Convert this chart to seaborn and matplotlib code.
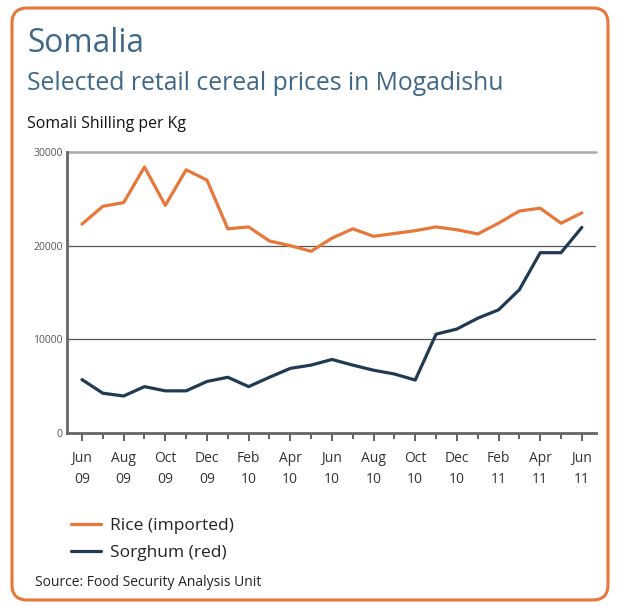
import matplotlib
matplotlib.use("Agg")
import matplotlib.pyplot as plt
from matplotlib.patches import FancyBboxPatch
from matplotlib.lines import Line2D
import pandas as pd
import seaborn as sns

# Monthly retail prices in Mogadishu, Jun 2009 - Jun 2011 (Somali Shilling per Kg)
months = ["Jun 09", "Jul 09", "Aug 09", "Sep 09", "Oct 09", "Nov 09", "Dec 09",
          "Jan 10", "Feb 10", "Mar 10", "Apr 10", "May 10", "Jun 10", "Jul 10",
          "Aug 10", "Sep 10", "Oct 10", "Nov 10", "Dec 10", "Jan 11", "Feb 11",
          "Mar 11", "Apr 11", "May 11", "Jun 11"]
rice = [22300, 24200, 24600, 28400, 24300, 28100, 27000, 21800, 22000, 20500,
        20000, 19400, 20800, 21800, 21000, 21300, 21600, 22000, 21700, 21250,
        22400, 23700, 24000, 22400, 23500]
sorghum = [5700, 4250, 3950, 4950, 4500, 4500, 5500, 5950, 4950, 5950,
           6900, 7250, 7850, 7250, 6700, 6300, 5650, 10550, 11100, 12250,
           13150, 15300, 19250, 19250, 21950]
series_names = ["Rice (imported)", "Sorghum (red)"]
tick_labels = ["Jun\n09", "Aug\n09", "Oct\n09", "Dec\n09", "Feb\n10", "Apr\n10",
               "Jun\n10", "Aug\n10", "Oct\n10", "Dec\n10", "Feb\n11", "Apr\n11",
               "Jun\n11"]
y_ticks = [0, 10000, 20000, 30000]

ORANGE = "#e8773a"
NAVY = "#203a53"
TITLE_BLUE = "#3f6888"

df = pd.DataFrame({
    "month": list(range(len(months))) * 2,
    "price": rice + sorghum,
    "series": [series_names[0]] * len(months) + [series_names[1]] * len(months),
})

sns.set_theme(style="white")
plt.rcParams["font.family"] = ["Open Sans", "DejaVu Sans"]

fig = plt.figure(figsize=(6.17, 6.06), dpi=100)
fig.patch.set_facecolor("white")

# rounded orange frame
frame = FancyBboxPatch((12 / 617, 6 / 606), 596 / 617, 592 / 606,
                       boxstyle="round,pad=0,rounding_size=0.025",
                       transform=fig.transFigure, facecolor="none",
                       edgecolor=ORANGE, linewidth=2.2, zorder=-1)
fig.patches.append(frame)

ax = fig.add_axes([67 / 617, 1 - 433 / 606, 529 / 617, 281 / 606])
ax.set_facecolor("none")

sns.lineplot(data=df, x="month", y="price", hue="series",
             palette=[ORANGE, NAVY], linewidth=2.3, ax=ax, legend=False,
             zorder=3)

ax.set_xlim(-0.72, 24.68)
ax.set_ylim(0, 30000)
ax.set_yticks(y_ticks)
ax.set_yticklabels([str(v) for v in y_ticks], fontsize=7.5, color="#555555")
ax.set_xticks(range(0, 25, 2))
ax.set_xticklabels(tick_labels, fontsize=10, color="#333333", linespacing=1.55)
ax.set_xticks(range(1, 25, 2), minor=True)
ax.tick_params(axis="x", which="major", length=6, width=1.3, color="#555555",
               direction="out", pad=7, bottom=True)
ax.tick_params(axis="x", which="minor", length=4, width=1.3, color="#555555",
               direction="out", bottom=True)
ax.tick_params(axis="y", length=0, pad=3)

ax.set_xlabel("")
ax.set_ylabel("")

for y in (10000, 20000):
    ax.axhline(y, color="#555555", linewidth=0.9, zorder=1)
ax.axhline(30000, color="#aaaaaa", linewidth=1.8, zorder=1, clip_on=False)

for side in ("top", "right"):
    ax.spines[side].set_visible(False)
for side in ("left", "bottom"):
    ax.spines[side].set_color("#666666")
    ax.spines[side].set_linewidth(2.0)

# titles
fig.text(27 / 617, 1 - 44 / 606, "Somalia", fontsize=22.8, color=TITLE_BLUE,
         va="center", ha="left")
fig.text(27 / 617, 1 - 83 / 606, "Selected retail cereal prices in Mogadishu",
         fontsize=17.8, color=TITLE_BLUE, va="center", ha="left")
fig.text(27 / 617, 1 - 124 / 606, "Somali Shilling per Kg", fontsize=11.4,
         color="#111111", va="center", ha="left")

# legend
handles = [Line2D([], [], color=ORANGE, linewidth=2.3),
           Line2D([], [], color=NAVY, linewidth=2.3)]
fig.legend(handles, series_names, loc="upper left",
           bbox_to_anchor=(55 / 617, 1 - 502 / 606), frameon=False,
           fontsize=12.5, handlelength=1.75, handletextpad=0.5,
           labelspacing=0.65, labelcolor="#222222")

fig.text(35 / 617, 1 - 583 / 606, "Source: Food Security Analysis Unit",
         fontsize=10, color="#222222", va="center", ha="left")

fig.savefig("out.png", dpi=100)
